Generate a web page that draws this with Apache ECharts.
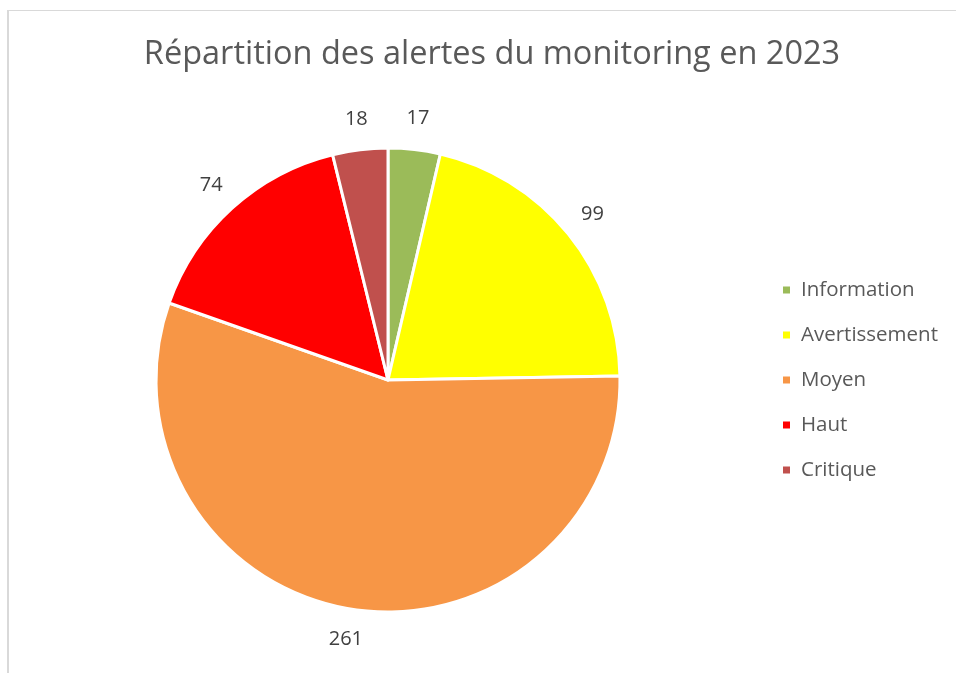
<!DOCTYPE html>
<html>
<head>
<meta charset="utf-8">
<script src="https://cdn.jsdelivr.net/npm/echarts@6/dist/echarts.min.js"></script>
<style>
  html, body { margin: 0; padding: 0; background: #fff; }
  #frame { position: absolute; left: 7px; top: 10px; width: 960px; height: 680px;
           border-left: 2px solid #d9d9d9; border-top: 1px solid #d9d9d9; }
  #chart { position: absolute; left: 0; top: 0; width: 956px; height: 673px; }
</style>
</head>
<body>
<div id="frame"></div>
<div id="chart"></div>
<script>
let titleText = 'Répartition des alertes du monitoring en 2023'
let categories = ['Information', 'Avertissement', 'Moyen', 'Haut', 'Critique']
let alertCounts = [17, 99, 261, 74, 18]
let sliceColors = ['#9BBB59', '#FFFF00', '#F79646', '#FF0000', '#C0504D']

let chart = echarts.init(document.getElementById('chart'))

let pieData = categories.map((name, i) => ({
    name: name,
    value: alertCounts[i],
    itemStyle: { color: sliceColors[i] }
}))

let chartOpt = {
    title: {
        text: titleText,
        left: 487,
        top: 33,
        textAlign: 'center',
        textStyle: {
            fontFamily: 'Open Sans',
            fontSize: 32.5,
            fontWeight: 'normal',
            color: '#595959'
        }
    },
    legend: {
        orient: 'vertical',
        left: 776,
        top: 274,
        itemWidth: 9,
        itemHeight: 9,
        itemGap: 23,
        icon: 'rect',
        selectedMode: false,
        data: categories,
        textStyle: {
            fontFamily: 'Open Sans',
            fontSize: 20.5,
            lineHeight: 22,
            color: '#595959',
            padding: [0, 0, 0, 5]
        }
    },
    series: [{
        type: 'pie',
        center: [388, 380],
        radius: 232,
        startAngle: 90,
        clockwise: true,
        silent: true,
        itemStyle: {
            borderColor: '#fff',
            borderWidth: 3
        },
        label: { show: false },
        labelLine: { show: false },
        data: pieData
    }, {
        // transparent ring that only carries the value labels
        type: 'pie',
        center: [388, 380],
        radius: [234, 286],
        startAngle: 90,
        clockwise: true,
        silent: true,
        itemStyle: { color: 'rgba(0,0,0,0)' },
        label: {
            show: true,
            position: 'inside',
            formatter: '{c}',
            fontFamily: 'Open Sans',
            fontSize: 20,
            color: '#404040'
        },
        labelLine: { show: false },
        data: categories.map((name, i) => ({ name: name, value: alertCounts[i] }))
    }]
}

chart.setOption(chartOpt)
</script>
</body>
</html>
